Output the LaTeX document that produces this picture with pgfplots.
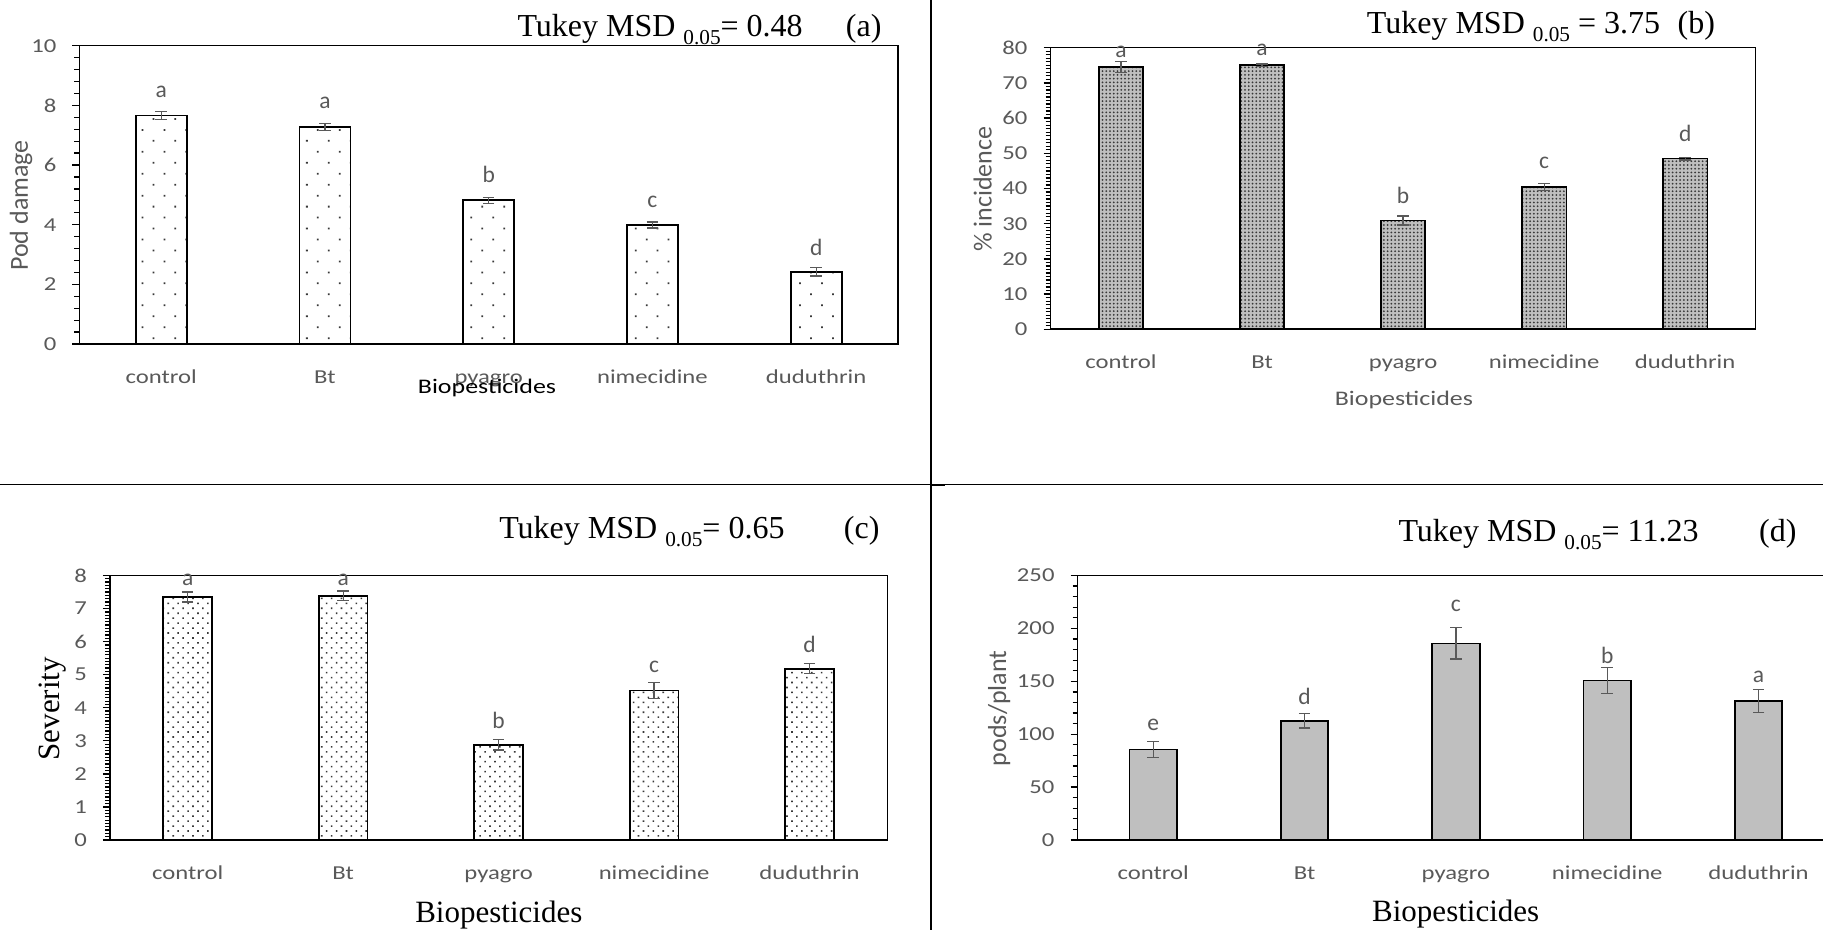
\documentclass[border=0pt]{standalone}
\usepackage{fontspec}
\setmainfont{Liberation Serif}
\newfontfamily\calib{Carlito}
\newfontfamily\calibS[FakeStretch=1.25]{Carlito}
\usepackage{pgfplots}
\pgfplotsset{compat=1.18}
\usetikzlibrary{patterns,patterns.meta}
\definecolor{tickgray}{HTML}{595959}
\definecolor{dotgray}{HTML}{383838}
\definecolor{barfill}{HTML}{BFBFBF}
\newcommand\tickfont{\calibS\fontsize{7.9}{9}\selectfont}
\newcommand\letfont{\calib\fontsize{9.4}{11}\selectfont}
\newcommand\ytfont{\calib\fontsize{10.4}{12}\selectfont}
\newcommand\xtfont{\calibS\fontsize{8.3}{10}\selectfont}
\newcommand\titfont{\fontsize{12.8}{15}\selectfont}
\newcommand\sub[1]{\raisebox{-3.3pt}{\fontsize{8.5}{10}\selectfont #1}}
\tikzset{lett/.style={font=\letfont, text=tickgray, inner sep=0pt}}
\pgfplotsset{
  panel/.style={
    scale only axis, anchor=south west,
    xmin=-0.5, xmax=4.5, xtick={0,1,2,3,4},
    xticklabels={control,Bt,pyagro,nimecidine,duduthrin},
    ymin=0, clip=false,
    axis line style={black, line width=0.5pt},
    tick align=outside, ytick pos=left, xtick pos=bottom,
    major tick length=2.8pt, minor tick length=2pt,
    xtick style={draw=none},
    ytick style={black, line width=0.5pt},
    yticklabel style={font=\tickfont, text=tickgray, anchor=east, inner sep=0pt, xshift=-6.2pt},
    xticklabel style={font=\tickfont, text=tickgray, anchor=base, inner sep=0pt, yshift=-12.8pt},
    /pgf/number format/assume math mode=true,
    after end axis/.code={\draw[black, line width=0.8pt] (rel axis cs:0,0) -- (rel axis cs:1,0);},
  },
  errb/.style={error bars/.cd, y dir=both, y explicit,
    error bar style={color=tickgray, line width=0.5pt},
    error mark options={rotate=90, color=tickgray, line width=0.5pt, mark size=2.3pt}},
}
\begin{document}
\begin{tikzpicture}
\useasboundingbox (0,0) rectangle (729.2pt,-372pt);
% dividers
\draw[black, line width=0.8pt] (372.4pt,0pt) -- (372.4pt,-372pt);
\draw[black, line width=0.4pt] (0pt,-193.6pt) -- (729.2pt,-193.6pt);
\draw[black, line width=0.8pt] (372.4pt,-194pt) -- (378pt,-194pt);

% ---------- (a) ----------
\begin{axis}[panel, at={(31.72pt,-137.6pt)}, width=327.5pt, height=119.3pt,
  ymax=10, ytick={0,2,...,10}, minor y tick num=4]
\addplot[ybar, bar width=20.4pt, draw=black, line width=0.7pt,
  pattern={Dots[angle=45, distance=6.2pt, radius=0.5pt]}, pattern color=dotgray, errb]
  coordinates {(0,7.66) +- (0,0.14) (1,7.28) +- (0,0.12) (2,4.82) +- (0,0.10) (3,3.99) +- (0,0.10) (4,2.42) +- (0,0.14)};
\node[lett] at (axis cs:0,8.46) {a};
\node[lett] at (axis cs:1,8.09) {a};
\node[lett] at (axis cs:2,5.67) {b};
\node[lett] at (axis cs:3,4.77) {c};
\node[lett] at (axis cs:4,3.23) {d};
\end{axis}

% ---------- (b) ----------
\begin{axis}[panel, at={(420.2pt,-131.72pt)}, width=282.08pt, height=112.64pt,
  ymax=80, ytick={0,10,...,80}, minor y tick num=9]
\addplot[ybar, bar width=17.8pt, draw=black, line width=0.7pt,
  preaction={fill=gray!50},
  pattern={Dots[distance=1.5pt, radius=0.4pt]}, pattern color=dotgray, errb]
  coordinates {(0,74.5) +- (0,1.6) (1,75.0) +- (0,0.4) (2,30.9) +- (0,1.3) (3,40.4) +- (0,1.0) (4,48.5) +- (0,0.4)};
\node[lett] at (axis cs:0,78.9) {a};
\node[lett] at (axis cs:1,79.4) {a};
\node[lett] at (axis cs:2,37.9) {b};
\node[lett] at (axis cs:3,47.4) {c};
\node[lett] at (axis cs:4,55.7) {d};
\end{axis}

% ---------- (c) ----------
\begin{axis}[panel, at={(44pt,-336pt)}, width=310.92pt, height=105.8pt,
  ymax=8, ytick={0,1,...,8}, minor y tick num=9]
\addplot[ybar, bar width=19.5pt, draw=black, line width=0.7pt,
  pattern={Dots[angle=45, distance=2.8pt, radius=0.45pt]}, pattern color=dotgray, errb]
  coordinates {(0,7.35) +- (0,0.15) (1,7.39) +- (0,0.14) (2,2.88) +- (0,0.16) (3,4.52) +- (0,0.24) (4,5.18) +- (0,0.15)};
\node[lett] at (axis cs:0,7.86) {a};
\node[lett] at (axis cs:1,7.86) {a};
\node[lett] at (axis cs:2,3.61) {b};
\node[lett] at (axis cs:3,5.24) {c};
\node[lett] at (axis cs:4,5.92) {d};
\end{axis}

% ---------- (d) ----------
\begin{axis}[panel, at={(431pt,-336pt)}, width=302.7pt, height=105.8pt,
  ymax=250, ytick={0,50,...,250}, minor y tick num=4]
\addplot[ybar, bar width=19pt, draw=black, line width=0.7pt, fill=barfill, errb]
  coordinates {(0,85.6) +- (0,7.5) (1,112.7) +- (0,6.8) (2,185.8) +- (0,14.8) (3,150.8) +- (0,12) (4,131.5) +- (0,11)};
\node[lett] at (axis cs:0,108.7) {e};
\node[lett] at (axis cs:1,135.5) {d};
\node[lett] at (axis cs:2,221.2) {c};
\node[lett] at (axis cs:3,174.9) {b};
\node[lett] at (axis cs:4,154.4) {a};
\end{axis}

% titles
\node[anchor=base west, inner sep=0pt, font=\titfont] at (206.8pt,-14.68pt) {Tukey MSD \sub{0.05}= 0.48};
\node[anchor=base east, inner sep=0pt, font=\titfont] at (352.8pt,-14.68pt) {(a)};
\node[anchor=base west, inner sep=0pt, font=\titfont] at (546.56pt,-13.32pt) {Tukey MSD \sub{0.05} = 3.75};
\node[anchor=base east, inner sep=0pt, font=\titfont] at (686.2pt,-13.32pt) {(b)};
\node[anchor=base west, inner sep=0pt, font=\titfont] at (199.52pt,-215.32pt) {Tukey MSD \sub{0.05}= 0.65};
\node[anchor=base east, inner sep=0pt, font=\titfont] at (352pt,-215.32pt) {(c)};
\node[anchor=base west, inner sep=0pt, font=\titfont] at (559.2pt,-216.68pt) {Tukey MSD \sub{0.05}= 11.23};
\node[anchor=base east, inner sep=0pt, font=\titfont] at (718.8pt,-216.68pt) {(d)};

% y titles
\node[rotate=90, inner sep=0pt, font=\ytfont, text=tickgray] at (8.44pt,-82.2pt) {Pod damage};
\node[rotate=90, inner sep=0pt, font=\ytfont, text=tickgray] at (393.12pt,-75.68pt) {\% incidence};
\node[rotate=90, inner sep=0pt, font=\fontsize{12.4}{14}\selectfont] at (20.88pt,-283.48pt) {Severity};
\node[rotate=90, inner sep=0pt, font=\ytfont, text=tickgray] at (399.68pt,-283.32pt) {pods/plant};

% x titles
\node[inner sep=0pt, font=\xtfont, text=black] at (194.8pt,-155.32pt) {Biopesticides};
\node[inner sep=0pt, font=\xtfont, text=tickgray] at (561.56pt,-160pt) {Biopesticides};
\node[inner sep=0pt, font=\fontsize{12.4}{14}\selectfont] at (199.52pt,-366pt) {Biopesticides};
\node[inner sep=0pt, font=\fontsize{12.4}{14}\selectfont] at (582.28pt,-365.6pt) {Biopesticides};
\end{tikzpicture}
\end{document}
